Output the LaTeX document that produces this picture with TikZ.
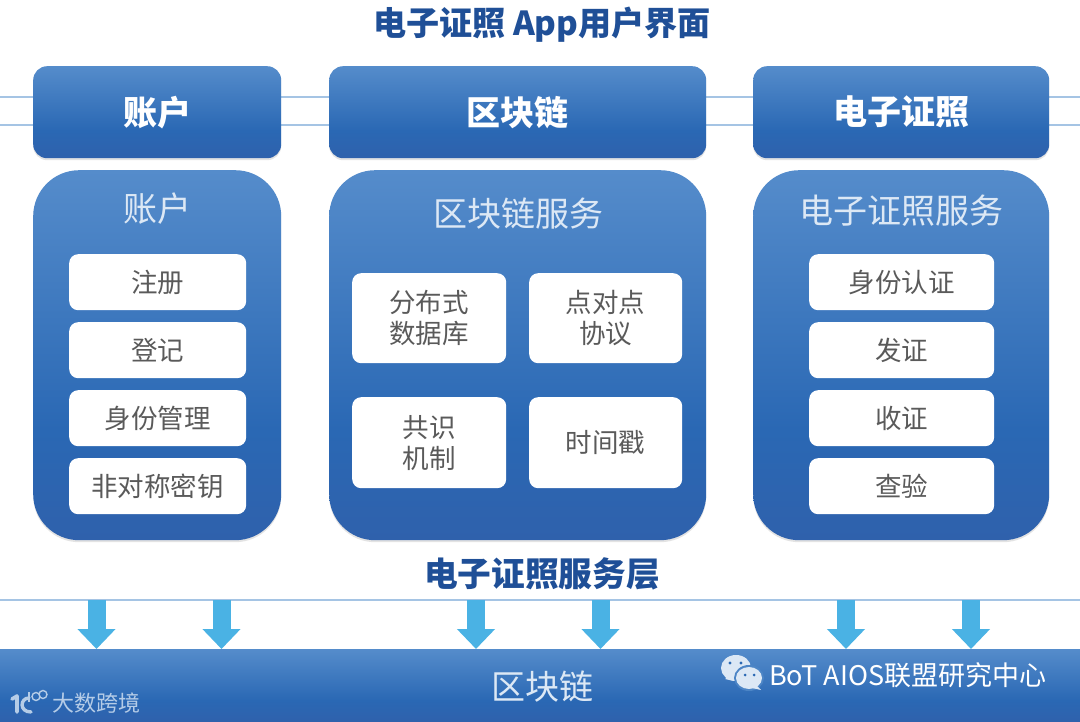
\documentclass[tikz,border=0pt]{standalone}
\usepackage{fontspec}
\setmainfont{Noto Sans CJK SC}
\usetikzlibrary{arrows.meta,shadows}
\definecolor{gTop}{HTML}{558CCB}
\definecolor{gMid}{HTML}{2A68B4}
\definecolor{gBot}{HTML}{2F61AC}
\definecolor{titleBlue}{HTML}{1F4F97}
\definecolor{lineBlue}{HTML}{A5C4E4}
\definecolor{arrowBlue}{HTML}{4AB2E4}
\definecolor{itemText}{HTML}{5A5A5A}
\definecolor{paleText}{HTML}{DCE8F5}
\colorlet{markGrey}{paleText!78!gMid}
\pgfdeclareverticalshading{bluegrad}{100bp}{
  color(0bp)=(gBot); color(25bp)=(gBot); color(40bp)=(gMid); color(75bp)=(gTop); color(100bp)=(gTop)}
\tikzset{
  x=1pt,y=-1pt,
  blueshape/.style={shading=bluegrad,anchor=north west,inner sep=0pt,
    drop shadow={opacity=.22,shadow xshift=0pt,shadow yshift=-2pt}},
  header/.style={blueshape,rounded corners=14pt,text=white,
    font=\fontsize{34}{38}\selectfont\bfseries},
  panel/.style={blueshape,rounded corners=46pt},
  paneltitle/.style={text=paleText,inner sep=0pt,font=\fontsize{34}{38}\selectfont},
  itembox/.style={fill=white,rounded corners=9pt,anchor=north west,inner sep=0pt,
    text=itemText,align=center,font=\fontsize{26.5}{31}\selectfont},
  sectiontitle/.style={text=titleBlue,inner sep=0pt,font=\fontsize{33.7}{38}\selectfont\bfseries},
  hline/.style={draw=lineBlue,line width=2pt},
  downarrow/.style={draw=arrowBlue,line width=18pt,
    -{Triangle[width=37pt,length=20pt,fill=arrowBlue]}},
  mark text/.style={inner sep=0pt},
}
\begin{document}
\begin{tikzpicture}
\useasboundingbox (0,0) rectangle (1080,722);
\fill[white] (0,0) rectangle (1080,722);

% free ends
\coordinate (la) at (0,97);  \coordinate (lb) at (0,125);
\coordinate (ra) at (1080,97); \coordinate (rb) at (1080,125);
\coordinate (busl) at (0,600); \coordinate (busr) at (1080,600);
\draw[hline] (la) -- (ra);
\draw[hline] (lb) -- (rb);
\draw[hline] (busl) -- (busr);

% title
\node[sectiontitle,font=\fontsize{33.1}{38}\selectfont\bfseries] (title) at (542,25) {电子证照 App用户界面};

% headers
\node[header,minimum width=248pt,minimum height=92pt] (h1) at (33,66) {\raisebox{-1pt}{账户}};
\node[header,minimum width=377pt,minimum height=92pt] (h2) at (329,66) {\raisebox{-1pt}{区块链}};
\node[header,minimum width=296pt,minimum height=92pt] (h3) at (753,66) {\raisebox{-1pt}{电子证照}};

% panels
\node[panel,minimum width=248pt,minimum height=370pt] (p1) at (33,170) {};
\node[panel,minimum width=377pt,minimum height=370pt] (p2) at (329,170) {};
\node[panel,minimum width=296pt,minimum height=370pt] (p3) at (753,170) {};
\node[paneltitle] (t1) at (157,209) {账户};
\node[paneltitle] (t2) at (518,214) {区块链服务};
\node[paneltitle] (t3) at (901,211) {电子证照服务};

% left items
\node[itembox,minimum width=177pt,minimum height=56pt] (a1) at (69,254) {注册};
\node[itembox,minimum width=177pt,minimum height=56pt] (a2) at (69,322) {登记};
\node[itembox,minimum width=177pt,minimum height=56pt] (a3) at (69,390) {身份管理};
\node[itembox,minimum width=177pt,minimum height=56pt] (a4) at (69,458) {非对称密钥};

% middle items
\node[itembox,minimum width=154pt,minimum height=90pt] (b1) at (352,273) {分布式\\数据库};
\node[itembox,minimum width=153pt,minimum height=90pt] (b2) at (529,273) {点对点\\协议};
\node[itembox,minimum width=154pt,minimum height=91pt] (b3) at (352,397) {共识\\机制};
\node[itembox,minimum width=153pt,minimum height=91pt] (b4) at (529,397) {时间戳};

% right items
\node[itembox,minimum width=185pt,minimum height=56pt] (c1) at (809,254) {身份认证};
\node[itembox,minimum width=185pt,minimum height=56pt] (c2) at (809,322) {发证};
\node[itembox,minimum width=185pt,minimum height=56pt] (c3) at (809,390) {收证};
\node[itembox,minimum width=185pt,minimum height=56pt] (c4) at (809,458) {查验};

% service layer title
\node[sectiontitle] (svc) at (542,574) {电子证照服务层};

% bus
\node[shading=bluegrad,anchor=north west,inner sep=0pt,minimum width=1080pt,minimum height=73pt] (bus) at (0,649) {};
\node[paneltitle] (bust) at (542,687) {区块链};

% arrows
\foreach \i/\px in {1/96.5,2/221.5,3/476,4/600.5,5/846,6/971}{
  \coordinate (s\i) at (\px,600);
  \coordinate (e\i) at (\px,649);
  \draw[downarrow] (s\i) -- (e\i);
}

% WeChat mark
\fill[paleText] (725,679) -- (731,675) -- (734,681) -- cycle;
\fill[paleText] (736,668) ellipse (15 and 13);
\fill[gTop!80!gMid] (749,678) ellipse (15 and 13);
\fill[paleText] (749,678) ellipse (13 and 11);
\fill[paleText] (756,685) -- (761,690) -- (752,688) -- cycle;
\fill[gMid] (730,663) circle (1.7) (741,663) circle (1.7) (745,675) circle (1.5) (754,675) circle (1.5);
\node[mark text,text=white,anchor=west,font=\fontsize{27}{30}\selectfont] (wm) at (769,675) {BoT AIOS联盟研究中心};

% 100 mark
\draw[color=markGrey,line width=3.6pt,line cap=round,line join=round]
  (12,699) -- (17,696) -- (17,712);
\draw[color=markGrey,line width=3.4pt,line cap=round]
  (29,698) .. controls (20,698) and (19,712) .. (31,712);
\draw[color=markGrey,line width=1.4pt] (29,692) -- (29,702);
\draw[color=markGrey,line width=1.4pt] (36,696.5) circle (4) (43,694.5) circle (4);
\node[mark text,text=markGrey,anchor=west,font=\fontsize{22}{26}\selectfont] (dk) at (52,703) {大数跨境};
\end{tikzpicture}
\end{document}
